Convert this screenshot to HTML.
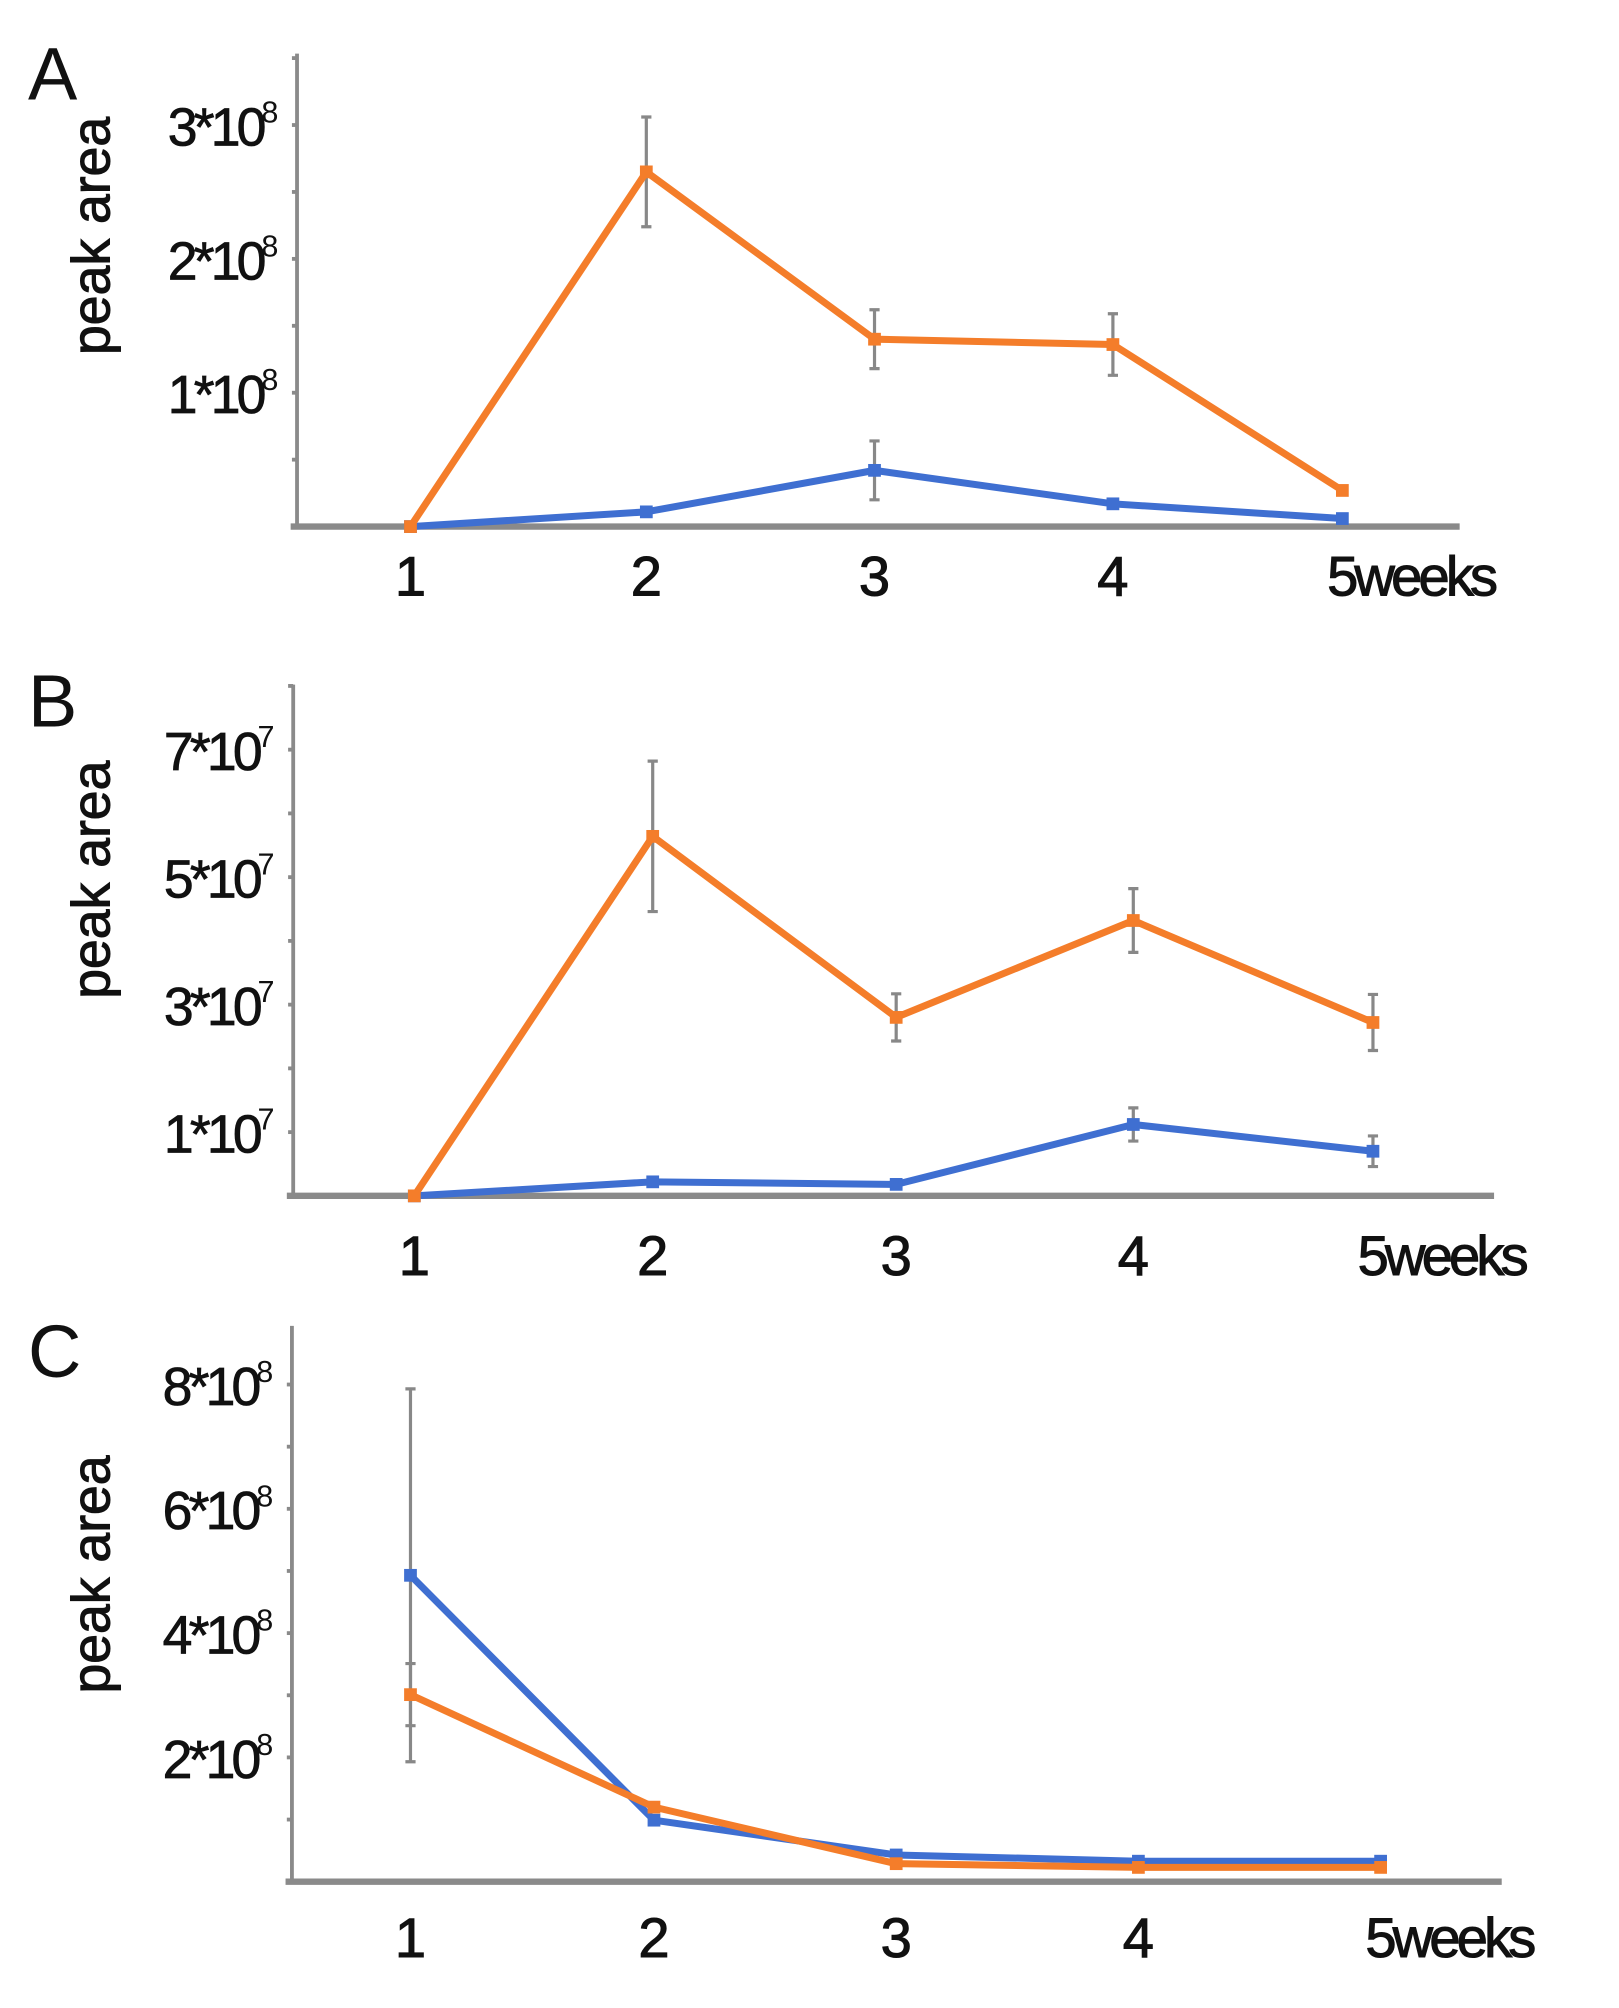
<!DOCTYPE html>
<html><head><meta charset="utf-8"><style>
html,body{margin:0;padding:0;background:#fff;}
svg{display:block;font-family:"Liberation Sans",sans-serif;}
</style></head><body>
<svg id="chart" width="1619" height="2008" viewBox="0 0 1270 1575" xmlns="http://www.w3.org/2000/svg"></svg>
<script>
const weeks = [1, 2, 3, 4, 5];
const xTickLabels = ["1", "2", "3", "4", "5weeks"];
// Panel A (units 1e8)
const aOrange = [0, 2.65, 1.40, 1.36, 0.27];
const aOrangeErr = [0, 0.41, 0.22, 0.23, 0];
const aBlue = [0, 0.11, 0.42, 0.17, 0.06];
const aBlueErr = [0, 0, 0.22, 0, 0];
const aTickVals = [1, 2, 3];
const aTickLabels = ["1*10", "2*10", "3*10"];
// Panel B (units 1e7)
const bOrange = [0, 5.64, 2.8, 4.32, 2.72];
const bOrangeErr = [0, 1.18, 0.37, 0.5, 0.44];
const bBlue = [0, 0.22, 0.18, 1.12, 0.7];
const bBlueErr = [0, 0, 0, 0.26, 0.24];
const bTickVals = [1, 3, 5, 7];
const bTickLabels = ["1*10", "3*10", "5*10", "7*10"];
// Panel C (units 1e8)
const cOrange = [3.01, 1.2, 0.29, 0.23, 0.23];
const cOrangeErr = [0.5, 0, 0, 0, 0];
const cBlue = [4.93, 0.99, 0.43, 0.33, 0.33];
const cBlueErr = [3.0, 0, 0, 0, 0];
const cTickVals = [2, 4, 6, 8];
const cTickLabels = ["2*10", "4*10", "6*10", "8*10"];

const NS = "http://www.w3.org/2000/svg";
const svg = document.getElementById("chart");
function mk(tag, attrs, parent) {
  const e = document.createElementNS(NS, tag);
  for (const k in attrs) e.setAttribute(k, attrs[k]);
  (parent || svg).appendChild(e);
  return e;
}
const ORANGE = "#f47d2a", BLUE = "#3f6fd1", AXIS = "#8a8a8a", INK = "#111";

const panels = [
  {id:"a", letter:"A", letterY:78, ax:233, yTop:42, y0:413, pxPer:105, xEnd:1145, xs:[322,507,686,873,1053], labelY:467, exp:"8", minorStep:0.5, maxV:3.5,
   orange:aOrange, oErr:aOrangeErr, blue:aBlue, bErr:aBlueErr, tv:aTickVals, tl:aTickLabels, ylabY:185},
  {id:"b", letter:"B", letterY:570, ax:230, yTop:537, y0:938, pxPer:50, xEnd:1172, xs:[325,512,703,889,1077], labelY:1000, exp:"7", minorStep:1, maxV:8,
   orange:bOrange, oErr:bOrangeErr, blue:bBlue, bErr:bBlueErr, tv:bTickVals, tl:bTickLabels, ylabY:690},
  {id:"c", letter:"C", letterY:1080, ax:229, yTop:1040, y0:1476, pxPer:48.75, xEnd:1178, xs:[322,513,703,893,1083], labelY:1535, exp:"8", minorStep:1, maxV:8.9,
   orange:cOrange, oErr:cOrangeErr, blue:cBlue, bErr:cBlueErr, tv:cTickVals, tl:cTickLabels, ylabY:1235}
];

panels.forEach(p => {
  const g = mk("g", {});
  
  
  const yS = v => p.y0 - v * p.pxPer;
  const xS = w => p.xs[w - 1];

  const letter = mk("text", {x:22, y:p.letterY, "font-size":58, fill:INK}, g);
  letter.textContent = p.letter;
  
  

  const yl = mk("text", {x:0, y:0, "font-size":42, fill:INK, "text-anchor":"middle", stroke:INK, "stroke-width":0.8,
    transform:"translate(86," + p.ylabY + ") rotate(-90)"}, g);
  yl.textContent = "peak area";
  
  

  const yax = mk("line", {x1:p.ax, y1:p.yTop, x2:p.ax, y2:p.y0, stroke:AXIS, "stroke-width":3}, g);
  
  
  const xax = mk("line", {x1:p.ax - 5, y1:p.y0, x2:p.xEnd, y2:p.y0, stroke:AXIS, "stroke-width":5}, g);
  
  

  for (let v = p.minorStep; v <= p.maxV; v += p.minorStep) {
    const t = mk("line", {x1:p.ax - 4, y1:yS(v), x2:p.ax, y2:yS(v), stroke:AXIS, "stroke-width":3}, g);
    
    
  }
  p.tv.forEach((v, i) => {
    const t = mk("text", {x:p.ax - 27, y:yS(v) + 16, "font-size":42, fill:INK, stroke:INK, "stroke-width":0.6, "text-anchor":"end", "letter-spacing":"-3"}, g);
    t.textContent = p.tl[i];
    
    
    const s = mk("text", {x:p.ax - 28, y:yS(v) - 2, "font-size":24, fill:INK}, g);
    s.textContent = p.exp;
    
    
  });
  weeks.forEach((w, i) => {
    const t = mk("text", {x: i === 4 ? xS(w) - 12 : xS(w), y:p.labelY, "font-size":44, fill:INK, stroke:INK, "stroke-width":0.8,
      "text-anchor": i === 4 ? "start" : "middle", "letter-spacing": i === 4 ? "-3" : "0"}, g);
    t.textContent = xTickLabels[i];
    
    
  });

  [[p.blue, p.bErr, BLUE, "blue"], [p.orange, p.oErr, ORANGE, "orange"]].forEach(([vals, errs, col, nm]) => {
    errs.forEach((e, i) => {
      if (!e) return;
      const x = xS(weeks[i]);
      const eb = mk("path", {d:"M" + x + "," + yS(vals[i] + e) + "V" + yS(vals[i] - e) +
        "M" + (x - 4) + "," + yS(vals[i] + e) + "h8M" + (x - 4) + "," + yS(vals[i] - e) + "h8",
        stroke:"#888", "stroke-width":2.5, fill:"none"}, g);
      
      
    });
  });
  [[p.blue, BLUE, "blue"], [p.orange, ORANGE, "orange"]].forEach(([vals, col, nm]) => {
    const d = vals.map((v, i) => (i ? "L" : "M") + xS(weeks[i]) + "," + yS(v)).join("");
    const ln = mk("path", {d:d, stroke:col, "stroke-width":5.5, fill:"none", "stroke-linejoin":"round"}, g);
    
    
    vals.forEach((v, i) => {
      const pt = mk("rect", {x:xS(weeks[i]) - 5, y:yS(v) - 5, width:10, height:10, fill:col}, g);
      
      
    });
  });
});
</script>
</body></html>
